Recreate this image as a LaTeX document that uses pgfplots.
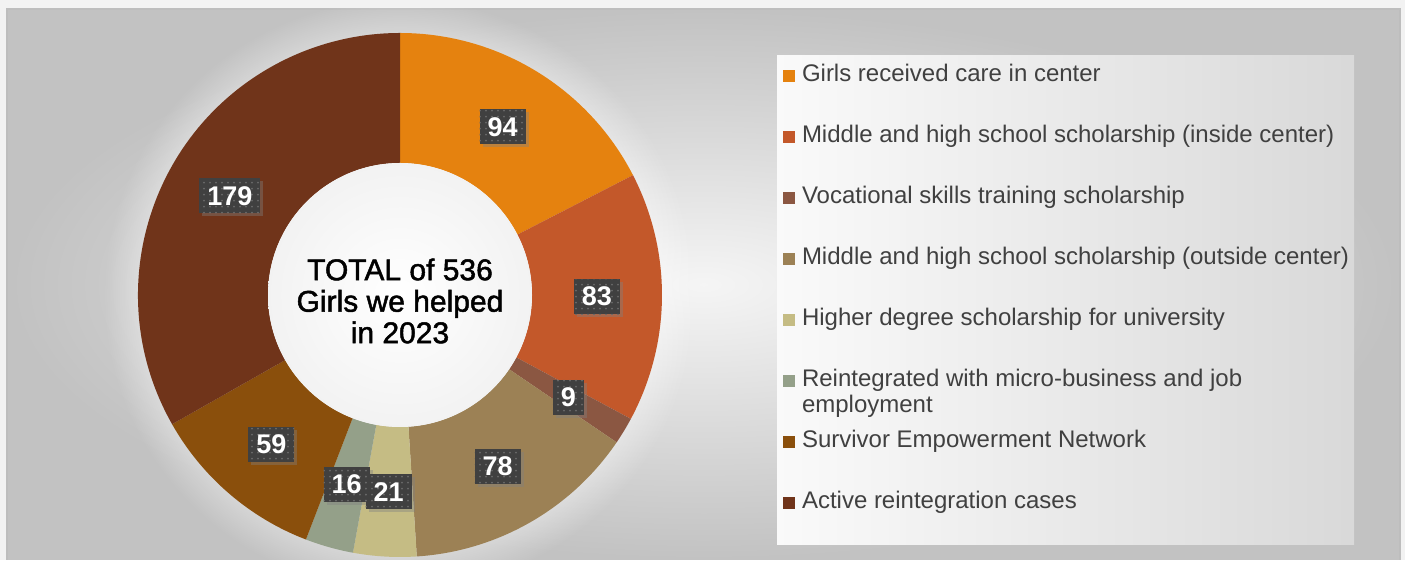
\documentclass[border=0pt]{standalone}
\usepackage{fontspec}
\setmainfont{Liberation Sans}
\newfontfamily\ctrfont[FakeBold=1.6]{Liberation Sans}
\usepackage{pgfplots}
\pgfplotsset{compat=1.18}
\usepackage{pgfplotstable}
\usetikzlibrary{shadows,patterns,fadings,calc}
\definecolor{c0}{HTML}{E5820F}
\definecolor{c1}{HTML}{C3582A}
\definecolor{c2}{HTML}{8B5742}
\definecolor{c3}{HTML}{9C8155}
\definecolor{c4}{HTML}{C5BC84}
\definecolor{c5}{HTML}{94A089}
\definecolor{c6}{HTML}{8A4F0C}
\definecolor{c7}{HTML}{70341A}
\definecolor{lbl}{HTML}{404040}
\definecolor{legtext}{HTML}{404040}
\definecolor{pagebg}{HTML}{F2F2F2}

\pgfplotstableread{
value
94
83
9
78
21
16
59
179
}\donutdata

\begin{document}
\begin{tikzpicture}
\gdef\total{0}%
\foreach \i in {0,...,7}{%
  \pgfplotstablegetelem{\i}{value}\of\donutdata
  \pgfmathsetmacro\myt{\total+\pgfplotsretval}%
  \xdef\total{\myt}%
}%
\gdef\cum{0}%
\foreach \i in {0,...,7}{%
  \pgfplotstablegetelem{\i}{value}\of\donutdata
  \edef\myv{\pgfplotsretval}%
  \pgfmathsetmacro\sA{90-360*(\cum/\total)}%
  \pgfmathsetmacro\myc{\cum+\myv}%
  \pgfmathsetmacro\sB{90-360*(\myc/\total)}%
  \pgfmathsetmacro\sM{(\sA+\sB)/2}%
  \expandafter\xdef\csname sa\i\endcsname{\sA}%
  \expandafter\xdef\csname sb\i\endcsname{\sB}%
  \expandafter\xdef\csname sm\i\endcsname{\sM}%
  \expandafter\xdef\csname sv\i\endcsname{\myv}%
  \xdef\cum{\myc}%
}%
\begin{axis}[
  width=702.5pt, height=280pt, scale only axis,
  xmin=0, xmax=1405, ymin=0, ymax=560,
  hide axis, clip=false,
  legend image code/.code={\fill[#1, draw=none] (0pt,-3pt) rectangle (6pt,3pt);},
  legend cell align=left,
  legend style={at={(axis cs:783,496)}, anchor=north west, draw=none, fill=none,
    inner sep=0pt, outer sep=0pt, row sep=18.7pt,
    font=\fontsize{12}{13.2}\selectfont, text=legtext,
    nodes={inner sep=0pt, text height=9pt, text depth=2.8pt},
    /tikz/every odd column/.style={column sep=3.5pt}},
]
% background
\fill[pagebg] (axis cs:0,0) rectangle (axis cs:1405,560);
\shade[inner color=white!96!black, outer color=white!76!black] (axis cs:7,0) rectangle (axis cs:1400,551);
\draw[white!74!black, line width=0.6pt] (axis cs:7,0) -- (axis cs:7,551) -- (axis cs:1400,551) -- (axis cs:1400,0);
% glow around donut
\fill[overlay, white, opacity=0.4, path fading=circle with fuzzy edge 15 percent] (axis cs:400,265) circle[radius=148pt];
% legend box
\shade[left color=white!98!black, right color=white!85!black] (axis cs:777,15) rectangle (axis cs:1354,504);
% slices
\pgfplotsinvokeforeach{0,...,7}{
  \fill[c#1, shift={(axis cs:400,265)}] (\csname sa#1\endcsname:131pt)
    arc[start angle=\csname sa#1\endcsname, end angle=\csname sb#1\endcsname, radius=131pt]
    -- (\csname sb#1\endcsname:66pt)
    arc[start angle=\csname sb#1\endcsname, end angle=\csname sa#1\endcsname, radius=66pt]
    -- cycle;
}
% hole
\shade[inner color=white, outer color=white!95!black] (axis cs:400,265) circle[radius=66pt];
\node[align=center, font=\ctrfont\fontsize{15}{15.75}\selectfont] at (axis cs:400,259) {TOTAL of 536\\Girls we helped\\in 2023};
% labels
\pgfplotsinvokeforeach{7,6,...,0}{
  \node[fill=lbl, text=white, font=\bfseries\fontsize{13.5}{14}\selectfont,
    inner xsep=4pt, inner ysep=0pt, minimum height=17.5pt,
    drop shadow={shadow xshift=1.5pt, shadow yshift=-1.5pt, opacity=0.4},
    postaction={pattern=dots, pattern color=white!22!lbl}]
    at ($(axis cs:400,265)+(\csname sm#1\endcsname:98.5pt)$) {\csname sv#1\endcsname};
}
\addlegendimage{fill=c0}\addlegendentry{Girls received care in center}
\addlegendimage{fill=c1}\addlegendentry{Middle and high school scholarship (inside center)}
\addlegendimage{fill=c2}\addlegendentry{Vocational skills training scholarship}
\addlegendimage{fill=c3}\addlegendentry{Middle and high school scholarship (outside center)}
\addlegendimage{fill=c4}\addlegendentry{Higher degree scholarship for university}
\addlegendimage{fill=c5}\addlegendentry{{\begin{tabular}[t]{@{}l@{}}Reintegrated with micro-business and job\\[-0.5pt]employment\end{tabular}}}
\addlegendimage{fill=c6}\addlegendentry{Survivor Empowerment Network}
\addlegendimage{fill=c7}\addlegendentry{Active reintegration cases}
\end{axis}
\end{tikzpicture}
\end{document}
